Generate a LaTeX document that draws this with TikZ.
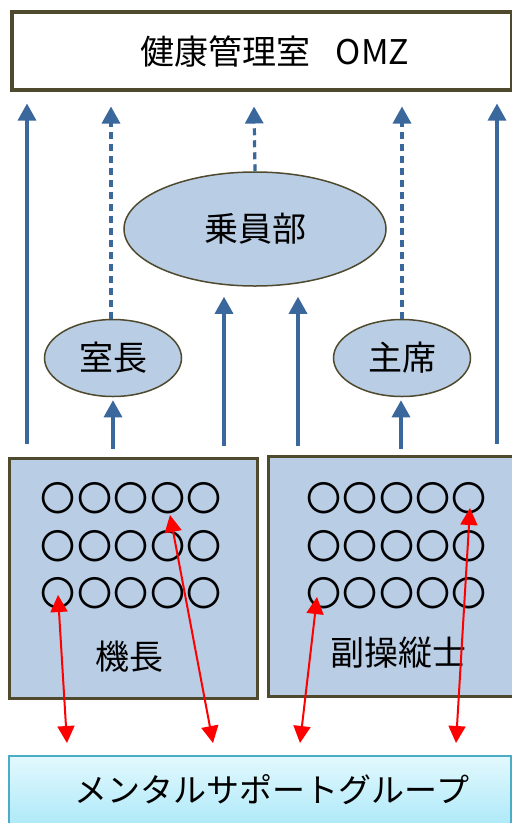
\documentclass[tikz,border=0pt]{standalone}
\usepackage{fontspec}
\setmainfont{Noto Sans CJK JP}
\usetikzlibrary{arrows.meta,shapes.geometric,calc}
\definecolor{arrblue}{HTML}{3A679C}
\definecolor{boxfill}{HTML}{B9CDE5}
\definecolor{olivebd}{HTML}{4F4A2E}
\definecolor{cyanbd}{HTML}{4BACC6}
\definecolor{cyantop}{HTML}{E2F8FD}
\definecolor{cyanbot}{HTML}{A6E7F8}
\begin{document}
\begin{tikzpicture}[x=1pt,y=-1pt,
  jtxt/.style={font=\fontsize{34}{40}\selectfont, text=black},
  oval/.style={ellipse, draw=olivebd, fill=boxfill, line width=1.5pt, inner sep=0pt, jtxt},
  crewbox/.style={rectangle, draw=olivebd, fill=boxfill, line width=2.5pt, inner sep=0pt, anchor=north west},
  maru/.style={inner sep=0pt, font=\fontsize{35}{40}\selectfont},
  bluearr/.style={draw=arrblue, line width=3.2pt, -{Triangle[width=18pt,length=17pt]}},
  bluedash/.style={bluearr, dash pattern=on 7pt off 5pt},
  redarr/.style={draw=red, line width=2pt, {Triangle[width=17pt,length=17pt]}-{Triangle[width=17pt,length=17pt]}}
]
\useasboundingbox (0,0) rectangle (512,823);

% top box
\node[rectangle, draw=olivebd, line width=3.5pt, minimum width=500pt, minimum height=78pt, anchor=north west, inner sep=0pt] (omz) at (10,10) {};
\node[jtxt] (omzt) at ($(omz.center)+(13,1)$) {健康管理室\hspace{0.75em}OMZ};

% ellipses
\node[oval, minimum width=262pt, minimum height=114pt] (crew) at (255,229) {\raisebox{-3pt}{乗員部}};
\node[oval, minimum width=137pt, minimum height=77pt] (shitsu) at (113,358) {室長};
\node[oval, minimum width=137pt, minimum height=77pt] (shuseki) at (402,358) {主席};

% crew boxes
\node[crewbox, minimum width=248pt, minimum height=240pt] (kicho) at (8,457) {};
\node[jtxt] (kichot) at (129,657) {機長};
\node[crewbox, minimum width=250pt, minimum height=240pt] (fuku) at (267,455) {};
\node[jtxt] (fukut) at (398,653) {副操縦士};

% circles
\foreach \c/\x in {1/58,2/95,3/131,4/168,5/204}{
  \foreach \r/\y in {1/498,2/546,3/593}{
    \node[maru] (k\r\c) at (\x,\y) {〇};
  }
}
\foreach \c/\x in {1/324,2/360,3/397,4/433,5/469}{
  \foreach \r/\y in {1/498,2/546,3/593}{
    \node[maru] (f\r\c) at (\x,\y) {〇};
  }
}

% bottom box
\node[rectangle, draw=cyanbd, line width=2pt, top color=cyantop, bottom color=cyanbot, minimum width=502pt, minimum height=80pt, anchor=north west, inner sep=0pt] (msg) at (8,755) {};
\node[jtxt, font=\fontsize{33}{40}\selectfont] (msgt) at (272,790) {メンタルサポートグループ};

% blue arrows to OMZ
\draw[bluearr] ($(kicho.north west)+(19,-13)$) -- ($(omz.south west)+(17,12)$);
\draw[bluedash] (shitsu.north -| 111,0) -- ($(omz.south west)+(101,15)$);
\draw[bluedash] (crew.north) -- ($(omz.south west)+(244,15)$);
\draw[bluedash] (shuseki.north) -- ($(omz.south west)+(392,15)$);
\draw[bluearr] ($(fuku.north west)+(230,-11)$) -- ($(omz.south west)+(487,12)$);

% blue arrows to middle
\draw[bluearr] ($(kicho.north west)+(105,-8)$) -- ($(shitsu.south)+(0,3)$);
\draw[bluearr] ($(fuku.north west)+(134,-6)$) -- ($(shuseki.south)+(-1,3)$);
\draw[bluearr] ($(kicho.north west)+(216,-11)$) -- ($(crew.south)+(-31,10)$);
\draw[bluearr] ($(fuku.north west)+(31,-9)$) -- ($(crew.south)+(43,10)$);

% red arrows
\draw[redarr] ($(k31.center)+(0,2)$) -- ($(msg.north west)+(59,-12)$);
\draw[redarr] ($(k14.center)+(2,17)$) -- ($(msg.north west)+(205,-12)$);
\draw[redarr] ($(f31.center)+(-7,4)$) -- ($(msg.north west)+(292,-12)$);
\draw[redarr] ($(f15.center)+(1,10)$) -- ($(msg.north west)+(448,-12)$);
\end{tikzpicture}
\end{document}
